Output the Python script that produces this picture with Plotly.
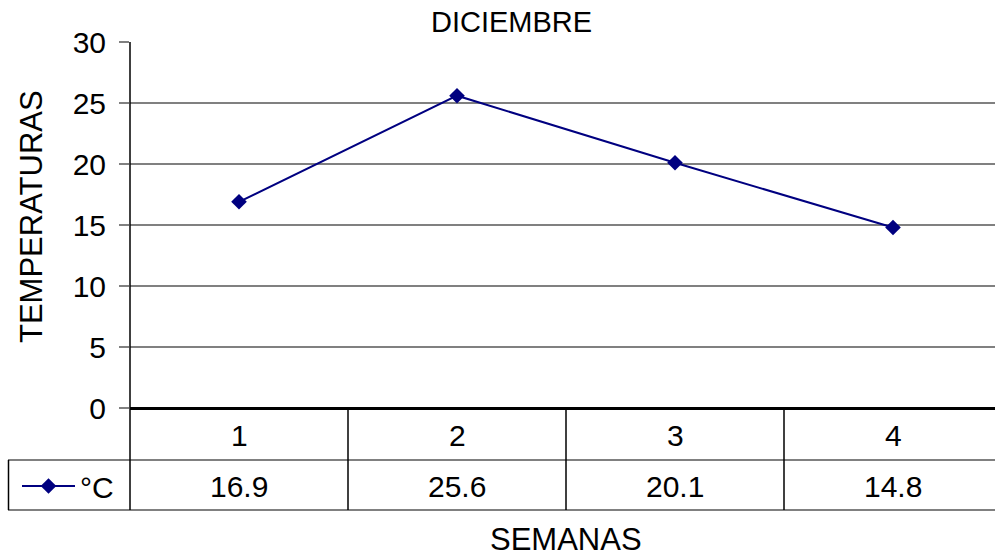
import plotly.graph_objects as go

# ---- data ----
weeks = [1, 2, 3, 4]
week_labels = ["1", "2", "3", "4"]
temps = [16.9, 25.6, 20.1, 14.8]
value_labels = ["16.9", "25.6", "20.1", "14.8"]
series_name = "°C"
title_text = "DICIEMBRE"
x_title = "SEMANAS"
y_title = "TEMPERATURAS"

W, H = 995, 556
FONT = "Liberation Sans, Arial, sans-serif"
NAVY = "#000080"
GRAY = "#808080"

def px(x):
    return x / W

def py(y):
    return 1 - y / H

fig = go.Figure()
fig.add_trace(go.Scatter(
    x=weeks, y=temps, mode="lines+markers", name=series_name,
    line=dict(color=NAVY, width=2),
    marker=dict(symbol="diamond", size=12, color=NAVY),
))

shapes = []
# table horizontal lines (gray)
for yy in (460, 510):
    shapes.append(dict(type="line", xref="paper", yref="paper",
                       x0=px(8), x1=1, y0=py(yy), y1=py(yy),
                       line=dict(color=GRAY, width=2)))
# left border of legend cell
shapes.append(dict(type="line", xref="paper", yref="paper",
                   x0=px(8.5), x1=px(8.5), y0=py(460), y1=py(510),
                   line=dict(color="black", width=1.5)))
# left axis line extended through table
shapes.append(dict(type="line", xref="paper", yref="paper",
                   x0=px(130), x1=px(130), y0=py(42), y1=py(510),
                   line=dict(color="black", width=1.5)))
# column separators
for b in [w + 0.5 for w in weeks[:-1]]:
    shapes.append(dict(type="line", xref="x", yref="paper",
                       x0=b, x1=b, y0=py(408), y1=py(510),
                       line=dict(color="black", width=1.5)))

annotations = []
for w, lab, val in zip(weeks, week_labels, value_labels):
    annotations.append(dict(x=w, y=py(435), xref="x", yref="paper", text=lab,
                            showarrow=False, font=dict(size=30, color="black", family=FONT),
                            xanchor="center", yanchor="middle"))
    annotations.append(dict(x=w, y=py(486), xref="x", yref="paper", text=val,
                            showarrow=False, font=dict(size=30, color="black", family=FONT),
                            xanchor="center", yanchor="middle"))
annotations.append(dict(x=px(511), y=py(22), xref="paper", yref="paper", text=title_text,
                        showarrow=False, font=dict(size=29, color="black", family=FONT),
                        xanchor="center", yanchor="middle"))
annotations.append(dict(x=px(566), y=py(539), xref="paper", yref="paper", text=x_title,
                        showarrow=False, font=dict(size=31, color="black", family=FONT),
                        xanchor="center", yanchor="middle"))
annotations.append(dict(x=px(31), y=py(217), xref="paper", yref="paper", text=y_title,
                        showarrow=False, textangle=-90,
                        font=dict(size=31, color="black", family=FONT),
                        xanchor="center", yanchor="middle"))

fig.update_layout(
    width=W, height=H, autosize=False,
    margin=dict(l=0, r=0, t=0, b=0, pad=0, autoexpand=False),
    paper_bgcolor="white", plot_bgcolor="white",
    font=dict(family=FONT, color="black"),
    shapes=shapes,
    annotations=annotations,
    showlegend=True,
    legend=dict(x=px(17), y=py(486), xanchor="left", yanchor="middle",
                font=dict(size=30, color="black", family=FONT),
                bgcolor="rgba(0,0,0,0)", itemwidth=53),
    xaxis=dict(domain=[px(130), 1], range=[0.5, 0.5 + (W - 130) / 218],
               showticklabels=False, showgrid=False, zeroline=False, showline=False,
               ticks="", automargin=False),
    yaxis=dict(domain=[py(408), py(42)], range=[0, 30], dtick=5, tick0=0,
               showgrid=True, gridcolor=GRAY, gridwidth=2,
               zeroline=True, zerolinecolor="black", zerolinewidth=3,
               ticks="outside", ticklen=10, tickcolor=GRAY, tickwidth=2,
               tickfont=dict(size=30, color="black", family=FONT),
               ticklabelstandoff=7, showline=False, automargin=False),
)

fig.write_html("out.html", config={"displayModeBar": False},
               post_script="document.body.style.margin='0';document.body.style.overflow='hidden';")
